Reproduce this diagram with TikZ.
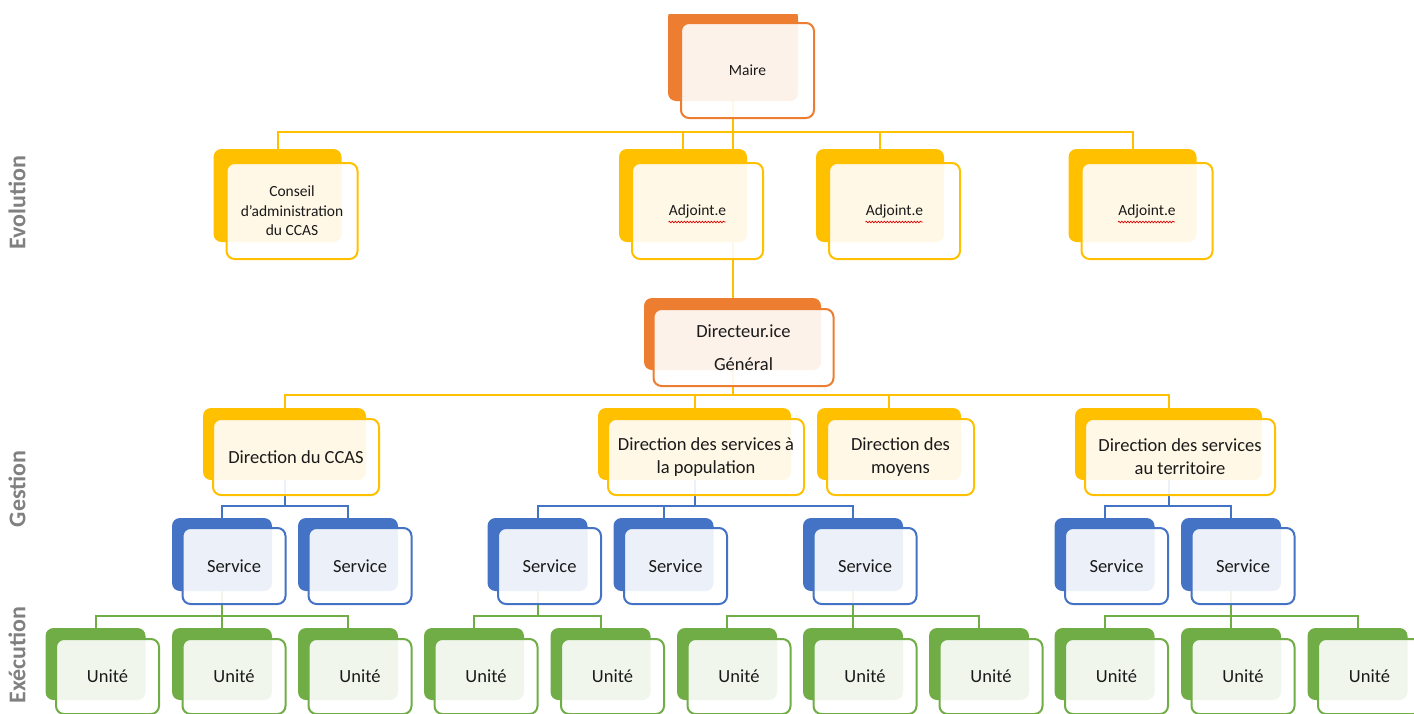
\documentclass[tikz,border=0pt]{standalone}
\usepackage{fontspec}
\setmainfont{Carlito}
\usetikzlibrary{backgrounds,decorations.pathmorphing}
\definecolor{orgorange}{HTML}{ED7D31}
\definecolor{orggold}{HTML}{FFC000}
\definecolor{orgblue}{HTML}{4472C4}
\definecolor{orggreen}{HTML}{70AD47}
\definecolor{ink}{HTML}{1A1A1A}
\definecolor{sidegray}{HTML}{808080}
\newcommand{\bigtext}{\fontsize{18.5}{23}\selectfont}
\newcommand{\smalltext}{\fontsize{15.5}{19.5}\selectfont}
\newcommand{\sidetext}{\fontsize{24}{28}\selectfont\bfseries}
\tikzset{
  every node/.style={text=ink},
  backcard/.style={rounded corners=8pt,inner sep=0pt},
  frontcard/.style={rounded corners=8pt,inner sep=0pt,fill=white,fill opacity=0.9,text opacity=1,line width=2pt,align=center,font=\bigtext},
  mairerow/.style={minimum height=92pt},
  mairerowf/.style={minimum height=95pt,xshift=14.5pt,yshift=-15.5pt,font=\smalltext},
  firstrow/.style={minimum height=93pt},
  firstrowf/.style={minimum height=96pt,xshift=14.5pt,yshift=-15.5pt,font=\smalltext},
  dgrow/.style={minimum height=72pt},
  dgrowf/.style={minimum height=77pt,xshift=11pt,yshift=-13.5pt,font=\fontsize{18.5}{33}\selectfont},
  secondrow/.style={minimum height=72pt},
  secondrowf/.style={minimum height=76pt,xshift=11.5pt,yshift=-13pt},
  servicerow/.style={minimum height=73pt},
  servicerowf/.style={minimum height=76pt,xshift=12pt,yshift=-11.5pt},
  unitrow/.style={minimum height=72pt},
  unitrowf/.style={minimum height=75pt,xshift=12pt,yshift=-12.5pt},
  ylink/.style={draw=orggold,line width=2pt},
  blink/.style={draw=orgblue,line width=2pt},
  glink/.style={draw=orggreen,line width=2pt},
  sidelabel/.style={rotate=90,font=\sidetext,text=sidegray},
  squiggle/.style={draw=red!85!black,line width=0.7pt,decorate,decoration={snake,amplitude=0.8pt,segment length=3pt}},
}
% back card + front card: name, colour, centre of back card, row, width, text
\newcommand{\card}[6]{%
  \node[backcard,fill=#2,#4,minimum width=#5pt] (#1-b) at (#3) {};
  \node[frontcard,draw=#2,#4f,minimum width=#5pt+3pt] (#1) at (#1-b.center) {#6};}

\begin{document}
\begin{tikzpicture}[x=1pt,y=-1pt]
\clip (0,0) rectangle (1414,713);

% side labels
\node[sidelabel] (evol) at (17,203) {Evolution};
\node[sidelabel] (gest) at (17,489) {Gestion};
\node[sidelabel] (exec) at (17,655) {Exécution};

\begin{scope}
\clip (0,14) rectangle (1414,713);
\card{maire}{orgorange}{733,55}{mairerow}{130}{Maire}
\end{scope}

\card{conseil}{orggold}{277.5,195.5}{firstrow}{128}{Conseil\\d’administration\\du CCAS}
\card{adj1}{orggold}{683,195.5}{firstrow}{128}{Adjoint.e}
\card{adj2}{orggold}{880,195.5}{firstrow}{128}{Adjoint.e}
\card{adj3}{orggold}{1132.5,195.5}{firstrow}{128}{Adjoint.e}
\foreach \kid in {adj1,adj2,adj3}
  \draw[squiggle] ([xshift=-29pt,yshift=-11pt]\kid.center) -- ++(57,0);

\card{dg}{orgorange}{732.5,334}{dgrow}{177}{Directeur.ice\\Général}

\card{ccas}{orggold}{284.5,444}{secondrow}{163}{Direction du CCAS}
\card{pop}{orggold}{694.5,444}{secondrow}{193}{Direction des services à\\la population}
\card{moy}{orggold}{889,444}{secondrow}{144}{Direction des\\moyens}
\card{terr}{orggold}{1168.5,444}{secondrow}{187}{Direction des services\\au territoire}

\card{s1}{orgblue}{222,554.5}{servicerow}{100}{Service}
\card{s2}{orgblue}{348,554.5}{servicerow}{100}{Service}
\card{s3}{orgblue}{537.5,554.5}{servicerow}{100}{Service}
\card{s4}{orgblue}{663.5,554.5}{servicerow}{100}{Service}
\card{s5}{orgblue}{853,554.5}{servicerow}{100}{Service}
\card{s6}{orgblue}{1104.5,554.5}{servicerow}{100}{Service}
\card{s7}{orgblue}{1231,554.5}{servicerow}{100}{Service}

\card{u1}{orggreen}{95.5,664}{unitrow}{100}{Unité}
\card{u2}{orggreen}{222,664}{unitrow}{100}{Unité}
\card{u3}{orggreen}{348,664}{unitrow}{100}{Unité}
\card{u4}{orggreen}{474,664}{unitrow}{100}{Unité}
\card{u5}{orggreen}{600.5,664}{unitrow}{100}{Unité}
\card{u6}{orggreen}{727,664}{unitrow}{100}{Unité}
\card{u7}{orggreen}{853,664}{unitrow}{100}{Unité}
\card{u8}{orggreen}{979,664}{unitrow}{100}{Unité}
\card{u9}{orggreen}{1104.5,664}{unitrow}{100}{Unité}
\card{u10}{orggreen}{1231,664}{unitrow}{100}{Unité}
\card{u11}{orggreen}{1357.5,664}{unitrow}{100}{Unité}

% links
\begin{scope}[on background layer]
\foreach \kid in {conseil,adj1,adj2,adj3}
  \draw[ylink] (maire-b.south) -- ++(0,31) -| (\kid-b.north);
\draw[ylink] (maire-b.south) -- (maire-b.south |- dg-b.north);
\foreach \kid in {ccas,pop,moy,terr}
  \draw[ylink] (dg-b.south) -- ++(0,25) -| (\kid-b.north);
\foreach \kid in {s1,s2}
  \draw[blink] (ccas-b.south) -- ++(0,26) -| (\kid-b.north);
\foreach \kid in {s3,s4,s5}
  \draw[blink] (pop-b.south) -- ++(0,26) -| (\kid-b.north);
\foreach \kid in {s6,s7}
  \draw[blink] (terr-b.south) -- ++(0,26) -| (\kid-b.north);
\foreach \kid in {u1,u2,u3}
  \draw[glink] (s1-b.south) -- ++(0,25) -| (\kid-b.north);
\foreach \kid in {u4,u5}
  \draw[glink] (s3-b.south) -- ++(0,25) -| (\kid-b.north);
\foreach \kid in {u6,u7,u8}
  \draw[glink] (s5-b.south) -- ++(0,25) -| (\kid-b.north);
\foreach \kid in {u9,u10,u11}
  \draw[glink] (s7-b.south) -- ++(0,25) -| (\kid-b.north);
\end{scope}
\end{tikzpicture}
\end{document}
